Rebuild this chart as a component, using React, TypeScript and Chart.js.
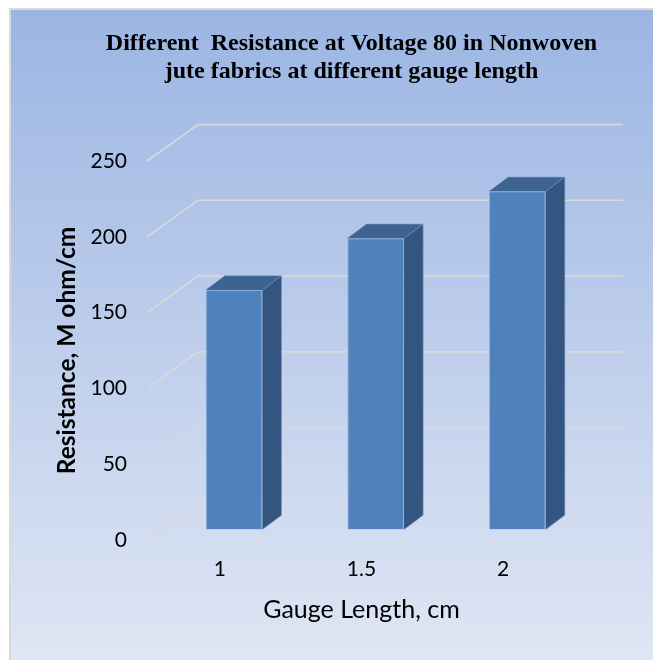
import React, { useEffect, useRef } from "react";
import { Chart, registerables } from "chart.js";

Chart.register(...registerables);

const categories = ["1", "1.5", "2"];
const resistance = [158, 192, 223];
const yTicks = [0, 50, 100, 150, 200, 250];
const titleLines = [
  "Different  Resistance at Voltage 80 in Nonwoven",
  "jute fabrics at different gauge length",
];
const xTitle = "Gauge Length, cm";
const yTitle = "Resistance, M ohm/cm";

// 3D geometry (floor depth offset and where the bars sit in depth)
const DEPTH_X = 49;
const DEPTH_Y = -36.5;
const BAR_FRONT = 0.29;
const BAR_BACK = 0.68;

const threeD = {
  id: "threeD",
  beforeDraw(chart: any) {
    const { ctx, width, height, chartArea, scales } = chart;
    ctx.save();
    // background
    const g = ctx.createLinearGradient(0, 0, 0, height);
    g.addColorStop(0, "#9bb5e3");
    g.addColorStop(1, "#dfe6f4");
    ctx.fillStyle = g;
    ctx.fillRect(2, 1, width - 3, height);
    ctx.strokeStyle = "#d9d9d9";
    ctx.lineWidth = 2;
    ctx.strokeRect(2, 1, width - 3, height + 4);

    // gridlines: front diagonal + back wall line
    const y = scales.y;
    ctx.strokeStyle = "#d9d9d9";
    ctx.lineWidth = 1.6;
    for (const t of yTicks) {
      const py = y.getPixelForValue(t);
      const x0 = chartArea.left - 2;
      ctx.beginPath();
      ctx.moveTo(x0, py);
      ctx.lineTo(x0 + DEPTH_X + 2, py + DEPTH_Y);
      ctx.lineTo(chartArea.right + DEPTH_X, py + DEPTH_Y);
      ctx.stroke();
    }

    // title
    ctx.fillStyle = "#000";
    ctx.font = 'bold 24px "Liberation Serif", "Times New Roman", serif';
    ctx.textAlign = "center";
    ctx.textBaseline = "alphabetic";
    ctx.fillText(titleLines[0], 343.5, 42);
    ctx.fillText(titleLines[1], 343.5, 70);
    ctx.restore();
  },
  beforeDatasetsDraw(chart: any) {
    chart.ctx.save();
    chart.ctx.translate(DEPTH_X * BAR_FRONT, DEPTH_Y * BAR_FRONT);
  },
  afterDatasetsDraw(chart: any) {
    const { ctx } = chart;
    const bdx = DEPTH_X * (BAR_BACK - BAR_FRONT);
    const bdy = DEPTH_Y * (BAR_BACK - BAR_FRONT);
    const meta = chart.getDatasetMeta(0);
    for (const bar of meta.data as any[]) {
      const { x, y, base, width } = bar.getProps(["x", "y", "base", "width"], true);
      const l = x - width / 2;
      const r = x + width / 2;
      // side face
      ctx.fillStyle = "#33557f";
      ctx.beginPath();
      ctx.moveTo(r, y);
      ctx.lineTo(r + bdx, y + bdy);
      ctx.lineTo(r + bdx, base + bdy);
      ctx.lineTo(r, base);
      ctx.closePath();
      ctx.fill();
      // top face
      ctx.fillStyle = "#3d6391";
      ctx.beginPath();
      ctx.moveTo(l, y);
      ctx.lineTo(l + bdx, y + bdy);
      ctx.lineTo(r + bdx, y + bdy);
      ctx.lineTo(r, y);
      ctx.closePath();
      ctx.fill();
      ctx.strokeStyle = "rgba(120,150,195,0.6)";
      ctx.lineWidth = 1;
      ctx.beginPath();
      ctx.moveTo(l, y);
      ctx.lineTo(l + bdx, y + bdy);
      ctx.lineTo(r + bdx, y + bdy);
      ctx.lineTo(r + bdx, base + bdy);
      ctx.lineTo(r, base);
      ctx.moveTo(r + bdx, y + bdy);
      ctx.lineTo(r, y);
      ctx.stroke();
    }
    ctx.restore();
  },
};

export default function App() {
  const ref = useRef<HTMLCanvasElement>(null);
  useEffect(() => {
    if (!ref.current) return;
    const chart = new Chart(ref.current, {
      type: "bar",
      data: {
        labels: categories,
        datasets: [
          {
            data: resistance,
            backgroundColor: "#4f81bd",
            borderColor: "rgba(120,160,210,0.7)",
            borderWidth: 1,
            barPercentage: 0.4,
            categoryPercentage: 1,
          },
        ],
      },
      options: {
        animation: false,
        responsive: true,
        maintainAspectRatio: false,
        layout: { padding: { top: 153, right: 87, left: 0, bottom: 0 } },
        plugins: {
          legend: { display: false },
          title: { display: false },
          tooltip: { enabled: false },
        },
        scales: {
          x: {
            grid: { display: false, drawTicks: false },
            border: { display: false },
            ticks: {
              padding: 17,
              color: "#000",
              font: { family: "Lato", size: 21 },
            },
            title: {
              display: true,
              text: xTitle,
              color: "#000",
              font: { family: "Lato", size: 25 },
              padding: { top: 0, bottom: 35 },
            },
            afterFit: (s: any) => {
              s.height = 120;
            },
          },
          y: {
            min: 0,
            max: 250,
            grid: { display: false, drawTicks: false },
            border: { display: false },
            afterBuildTicks: (s: any) => {
              s.ticks = yTicks.map((v) => ({ value: v }));
            },
            ticks: {
              padding: 22,
              color: "#000",
              font: { family: "Lato", size: 21 },
            },
            title: {
              display: true,
              text: yTitle,
              color: "#000",
              font: { family: "Lato", size: 24.5, weight: "bold" },
              padding: { top: 44, bottom: 0 },
            },
            afterFit: (s: any) => {
              s.width = 141;
            },
          },
        },
      },
      plugins: [threeD],
    });
    return () => chart.destroy();
  }, []);
  return (
    <div style={{ width: 653, height: 652, position: "relative" }}>
      <canvas ref={ref} />
    </div>
  );
}
